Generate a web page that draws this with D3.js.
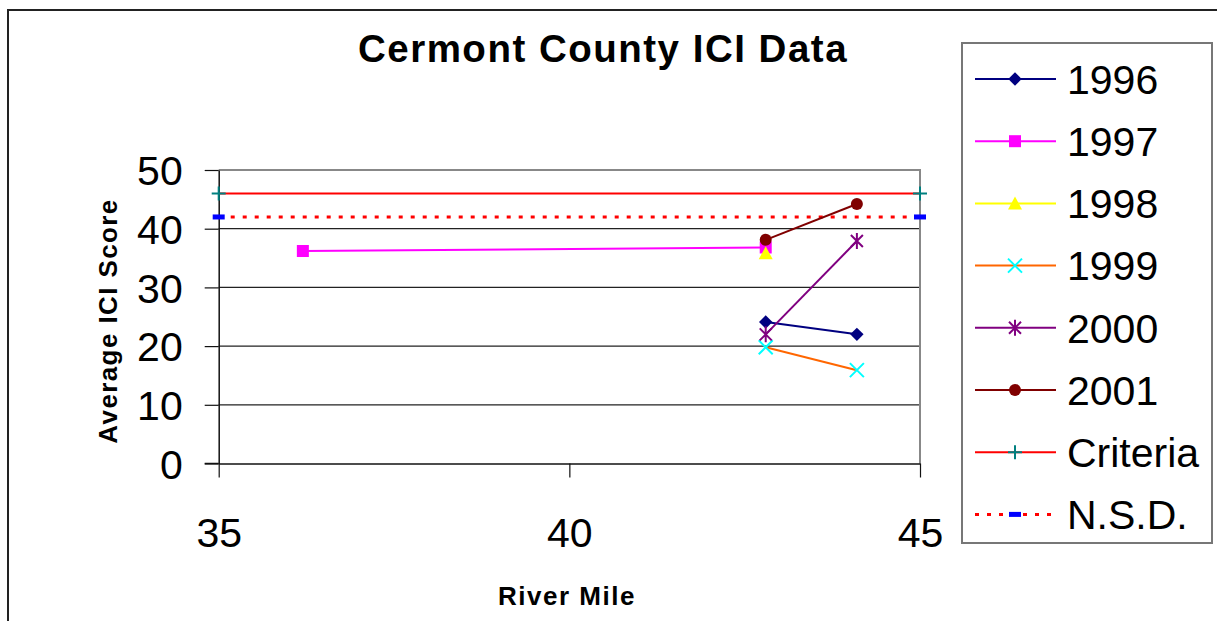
<!DOCTYPE html>
<html>
<head>
<meta charset="utf-8">
<script src="https://cdn.jsdelivr.net/npm/d3@7"></script>
<style>
  body { margin: 0; background: #fff; }
  svg { display: block; font-family: "Liberation Sans", Arial, sans-serif; }
  .grid line { stroke: #222; stroke-width: 1.2; }
</style>
</head>
<body>
<script>
// data
var years = ["1996", "1997", "1998", "1999", "2000", "2001"];
var s1996 = [[42.8, 24.1], [44.1, 22.0]];
var s1997 = [[36.2, 36.2], [42.8, 36.8]];
var s1998 = [[42.8, 35.8]];
var s1999 = [[42.8, 19.8], [44.1, 15.9]];
var s2000 = [[42.8, 22.0], [44.1, 37.9]];
var s2001 = [[42.8, 38.1], [44.1, 44.2]];
var criteria = [[35, 46], [45, 46]];
var nsd = [[35, 42], [45, 42]];
var xTicks = [35, 40, 45];
var yTicks = [0, 10, 20, 30, 40, 50];

var series = [
    { name: "1996", values: s1996, line: "#000080", mark: "#000080", shape: "diamond" },
    { name: "1997", values: s1997, line: "#ff00ff", mark: "#ff00ff", shape: "square" },
    { name: "1998", values: s1998, line: "#ffff00", mark: "#ffff00", shape: "triangle" },
    { name: "1999", values: s1999, line: "#ff6600", mark: "#00ffff", shape: "x" },
    { name: "2000", values: s2000, line: "#800080", mark: "#800080", shape: "star" },
    { name: "2001", values: s2001, line: "#800000", mark: "#800000", shape: "circle" },
    { name: "Criteria", values: criteria, line: "#ff0000", mark: "#008080", shape: "plus" },
    { name: "N.S.D.", values: nsd, line: "#ff0000", mark: "#0000ff", shape: "dash", dotted: true }
];

var width = 1217, height = 621;

var svg = d3.select("body").append("svg")
    .attr("width", width)
    .attr("height", height);

// outer chart border
svg.append("rect")
    .attr("x", 8).attr("y", 10)
    .attr("width", width).attr("height", height)
    .attr("fill", "none")
    .attr("stroke", "#222")
    .attr("stroke-width", 2);

var x = d3.scaleLinear().domain([35, 45]).range([218.7, 920]);
var y = d3.scaleLinear().domain([0, 50]).range([463.5, 170]);

// gridlines
svg.append("g")
    .attr("class", "grid")
    .selectAll("line")
    .data(yTicks.filter(function (d) { return d > 0 && d < 50; }))
    .enter().append("line")
    .attr("x1", x(35)).attr("x2", x(45))
    .attr("y1", function (d) { return y(d); })
    .attr("y2", function (d) { return y(d); });

// plot area border (top & right in gray)
svg.append("path")
    .attr("d", "M" + x(35) + "," + y(50) + "H" + x(45) + "V" + y(0))
    .attr("fill", "none")
    .attr("stroke", "#888")
    .attr("stroke-width", 2);

var yAxis = d3.axisLeft(y)
    .tickValues(yTicks)
    .tickSize(14)
    .tickPadding(22)
    .tickSizeOuter(0);

var gy = svg.append("g")
    .attr("transform", "translate(" + x(35) + ",0)")
    .call(yAxis);

var xAxis = d3.axisBottom(x)
    .tickValues(xTicks)
    .tickSize(14)
    .tickPadding(40)
    .tickSizeOuter(0);

var gx = svg.append("g")
    .attr("transform", "translate(0," + y(0) + ")")
    .call(xAxis);

[gx, gy].forEach(function (g) {
    g.select(".domain").attr("stroke", "#111").attr("stroke-width", 1.5);
    g.selectAll(".tick line").attr("stroke", "#111").attr("stroke-width", 1.2);
    g.selectAll(".tick text")
        .attr("fill", "#000")
        .style("font-size", "41px")
        .style("font-family", "'Liberation Sans', Arial, sans-serif");
});
gy.selectAll(".tick text").attr("dy", "0.36em");
gx.selectAll(".tick text").attr("dy", "0.71em");

// extend x-axis line to the left of the y-axis like the original
svg.append("line")
    .attr("x1", x(35) - 14).attr("x2", x(35))
    .attr("y1", y(0)).attr("y2", y(0))
    .attr("stroke", "#111").attr("stroke-width", 1.5);

function drawMarker(g, shape, color) {
    switch (shape) {
        case "diamond":
            g.append("path")
                .attr("d", d3.symbol().type(d3.symbolSquare).size(90)())
                .attr("transform", "rotate(45)")
                .attr("fill", color);
            break;
        case "square":
            g.append("rect")
                .attr("x", -6).attr("y", -6).attr("width", 12).attr("height", 12)
                .attr("fill", color);
            break;
        case "triangle":
            g.append("path")
                .attr("d", "M0,-7L7,6L-7,6Z")
                .attr("fill", color);
            break;
        case "circle":
            g.append("circle").attr("r", 6).attr("fill", color);
            break;
        case "x":
            g.append("path")
                .attr("d", "M-7,-7L7,7M-7,7L7,-7")
                .attr("stroke", color).attr("stroke-width", 2);
            break;
        case "star":
            g.append("path")
                .attr("d", "M-6,-6L6,6M-6,6L6,-6M0,-8V8")
                .attr("stroke", color).attr("stroke-width", 2);
            break;
        case "plus":
            g.append("path")
                .attr("d", "M-7,0H7M0,-7V7")
                .attr("stroke", color).attr("stroke-width", 2);
            break;
        case "dash":
            g.append("rect")
                .attr("x", -6).attr("y", -2.5).attr("width", 12).attr("height", 5)
                .attr("fill", color);
            break;
    }
}

var line = d3.line()
    .x(function (d) { return x(d[0]); })
    .y(function (d) { return y(d[1]); });

// reference lines first, then year series on top
var drawOrder = series.slice(6).concat(series.slice(0, 6));

drawOrder.forEach(function (s) {
    var g = svg.append("g").attr("class", "series");
    g.append("path")
        .datum(s.values)
        .attr("d", line)
        .attr("fill", "none")
        .attr("stroke", s.line)
        .attr("stroke-width", s.dotted ? 3 : 2)
        .attr("stroke-dasharray", s.dotted ? "4,8" : null);
    s.values.forEach(function (d) {
        var m = g.append("g")
            .attr("transform", "translate(" + x(d[0]) + "," + y(d[1]) + ")");
        drawMarker(m, s.shape, s.mark);
    });
});

// titles
svg.append("text")
    .attr("x", 603).attr("y", 62)
    .attr("text-anchor", "middle")
    .style("font-size", "38.5px")
    .style("font-weight", "bold")
    .style("letter-spacing", "1.5px")
    .text("Cermont County ICI Data");

svg.append("text")
    .attr("x", 567).attr("y", 605)
    .attr("text-anchor", "middle")
    .style("font-size", "26px")
    .style("font-weight", "bold")
    .style("letter-spacing", "1.5px")
    .text("River Mile");

svg.append("text")
    .attr("transform", "translate(117,321) rotate(-90)")
    .attr("text-anchor", "middle")
    .style("font-size", "26px")
    .style("font-weight", "bold")
    .style("letter-spacing", "1.4px")
    .text("Average ICI Score");

// legend
var legend = svg.append("g").attr("transform", "translate(962,43)");

legend.append("rect")
    .attr("width", 250).attr("height", 500)
    .attr("fill", "#fff")
    .attr("stroke", "#777")
    .attr("stroke-width", 2);

var item = legend.selectAll(".item")
    .data(series)
    .enter().append("g")
    .attr("class", "item")
    .attr("transform", function (d, i) { return "translate(0," + (36 + i * 62.2) + ")"; });

item.append("line")
    .attr("x1", 13).attr("x2", 94)
    .attr("stroke", function (d) { return d.line; })
    .attr("stroke-width", function (d) { return d.dotted ? 3 : 2; })
    .attr("stroke-dasharray", function (d) { return d.dotted ? "4,8" : null; });

item.each(function (d) {
    var m = d3.select(this).append("g").attr("transform", "translate(53,0)");
    drawMarker(m, d.shape, d.mark);
});

item.append("text")
    .attr("x", 105)
    .attr("dy", "0.36em")
    .style("font-size", "41px")
    .text(function (d) { return d.name; });
</script>
</body>
</html>
